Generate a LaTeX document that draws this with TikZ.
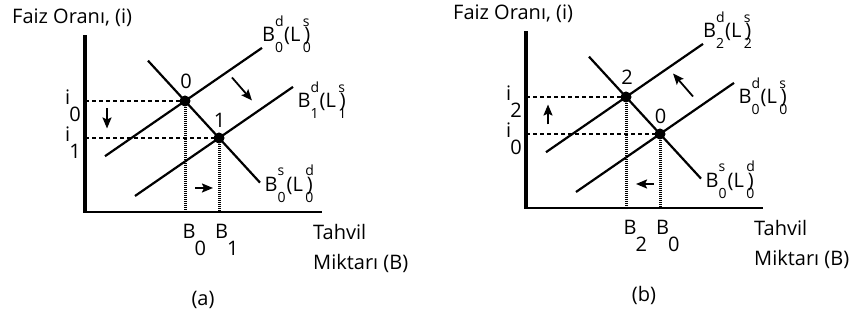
\documentclass[tikz,border=0pt]{standalone}
\usepackage{fontspec}
\setmainfont{Open Sans}
\usetikzlibrary{arrows.meta}
\newcommand{\scsize}{\fontsize{14}{14}\selectfont}
\newcommand{\bsc}[2]{\rlap{\raisebox{0.78em}{\scsize #1}}\raisebox{-0.55em}{\scsize #2}}
\newcommand{\bond}[4]{B\bsc{#1}{#2}\kern0.05em(L\kern0.12em\rlap{\bsc{#3}{#4}}\kern0.08em)}
\newcommand{\lowsub}[2]{#1\kern-0.05em\raisebox{-0.85em}{#2}}
\begin{document}
\begin{tikzpicture}[x=1pt,y=1pt,
  crv/.style={line width=2.2pt},
  hguide/.style={line width=1.1pt, dash pattern=on 4pt off 3pt},
  vguide/.style={line width=3pt, dash pattern=on 1pt off 1pt},
  eqdot/.style={circle, fill, inner sep=0pt, minimum size=11pt},
  movearr/.style={line width=1.8pt, -{Stealth[length=11pt,width=9pt,inset=2pt]}},
  lbl/.style={inner sep=0pt}]
  \fontsize{20}{24}\selectfont
  \useasboundingbox (0,0) rectangle (859,320);
  \foreach \ox/\oy/\uid/\lid/\dir/\pn in {85/108/0/1/1/a, 526/112/2/0/-1/b} {
    \begin{scope}[shift={(\ox,\oy)}]
      \coordinate (org\pn) at (0,0);
      \coordinate (ytop\pn) at (0,177);
      \coordinate (xend\pn) at (237,0);
      \coordinate (P\pn) at (100,111);
      \coordinate (Q\pn) at (134,74);
      \coordinate (su\pn) at (20,55.8);
      \coordinate (eu\pn) at (177,164.1);
      \coordinate (sl\pn) at (50,16);
      \coordinate (el\pn) at (208,125.1);
      \coordinate (sd\pn) at (63,151.3);
      \coordinate (ed\pn) at (175,29.4);
      \draw[hguide] (P\pn -| org\pn) -- (P\pn);
      \draw[hguide] (Q\pn -| org\pn) -- (Q\pn);
      \draw[vguide] (P\pn) -- (P\pn |- org\pn);
      \draw[vguide] (Q\pn) -- (Q\pn |- org\pn);
      \draw[line width=1.8pt] (org\pn) -- (xend\pn);
      \draw[line width=4pt] ([yshift=-0.9pt]org\pn) -- (ytop\pn);
      \draw[crv] (su\pn) -- (eu\pn);
      \draw[crv] (sl\pn) -- (el\pn);
      \draw[crv] (sd\pn) -- (ed\pn);
      \node[eqdot] (dotP\pn) at (P\pn) {};
      \node[eqdot] (dotQ\pn) at (Q\pn) {};
      \coordinate (vt\pn) at (22,{93.5+10*\dir});
      \coordinate (vh\pn) at (22,{93.5-10*\dir});
      \coordinate (dt\pn) at ({157-10*\dir},{123+11.5*\dir});
      \coordinate (dh\pn) at ({157+10*\dir},{123-11.5*\dir});
      \coordinate (ht\pn) at ({119-9*\dir},24);
      \coordinate (hh\pn) at ({119+9*\dir},24);
      \draw[movearr] (vt\pn) -- (vh\pn);
      \draw[movearr] (dt\pn) -- (dh\pn);
      \draw[movearr] (ht\pn) -- (hh\pn);
      \node[lbl, anchor=base west] (ylab\pn) at (-73,188) {Faiz Oranı, (i)};
      \node[lbl, anchor=base west] (bup\pn) at (177,170) {\bond{d}{\uid}{s}{\uid}};
      \node[lbl, anchor=base west] (blo\pn) at (212.5,104) {\bond{d}{\lid}{s}{\lid}};
      \node[lbl, anchor=base west] (bdem\pn) at (179.5,20.5) {\bond{s}{0}{d}{0}};
      \node[lbl] (nP\pn) at (101,131) {\uid};
      \node[lbl] (nQ\pn) at (134.5,92) {\lid};
      \node[lbl, anchor=base west] (iP\pn) at (-20,107) {\lowsub{i}{\uid}};
      \node[lbl, anchor=base west] (iQ\pn) at (-20,70) {\lowsub{i}{\lid}};
      \node[lbl, anchor=base west] (bP\pn) at (97.5,-27) {\lowsub{B}{\uid}};
      \node[lbl, anchor=base west] (bQ\pn) at (130,-27) {\lowsub{B}{\lid}};
      \node[lbl, anchor=base west] (xl1\pn) at (228,-28) {Tahvil};
      \node[lbl, anchor=base west] (xl2\pn) at (228,-58) {Miktarı (B)};
      \node[lbl, anchor=base] (cap\pn) at (118,-94) {(\pn)};
    \end{scope}
  }
\end{tikzpicture}
\end{document}
